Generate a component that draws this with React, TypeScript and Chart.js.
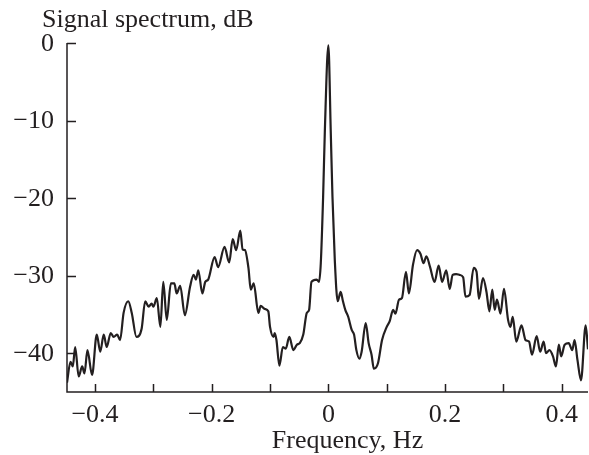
import React, { useEffect, useRef } from 'react';
import { Chart, registerables } from 'chart.js';

Chart.register(...registerables);

const freqHz = [
  -0.448, -0.442, -0.438, -0.434, -0.428, -0.422, -0.418, -0.413, -0.405, -0.397,
  -0.391, -0.385, -0.380, -0.373, -0.368, -0.362, -0.357, -0.351, -0.343, -0.337,
  -0.329, -0.320, -0.314, -0.308, -0.303, -0.300, -0.294, -0.288, -0.283, -0.277,
  -0.270, -0.264, -0.260, -0.254, -0.246, -0.237, -0.231, -0.227, -0.223, -0.216,
  -0.211, -0.206, -0.195, -0.189, -0.178, -0.170, -0.164, -0.158, -0.151, -0.147,
  -0.143, -0.137, -0.133, -0.128, -0.120, -0.116, -0.109, -0.103, -0.100, -0.094,
  -0.092, -0.089, -0.084, -0.078, -0.073, -0.067, -0.060, -0.054, -0.049, -0.043,
  -0.037, -0.033, -0.029, -0.020, -0.016, -0.013, -0.009, -0.006, 0.000, 0.004,
  0.007, 0.011, 0.016, 0.021, 0.025, 0.029, 0.034, 0.040, 0.044, 0.048,
  0.053, 0.057, 0.064, 0.069, 0.074, 0.078, 0.085, 0.092, 0.100, 0.105,
  0.111, 0.115, 0.121, 0.126, 0.133, 0.138, 0.145, 0.152, 0.158, 0.163,
  0.168, 0.174, 0.182, 0.189, 0.195, 0.202, 0.208, 0.213, 0.219, 0.225,
  0.231, 0.235, 0.242, 0.249, 0.254, 0.258, 0.265, 0.271, 0.276, 0.281,
  0.285, 0.289, 0.295, 0.301, 0.308, 0.312, 0.316, 0.322, 0.331, 0.338,
  0.344, 0.349, 0.357, 0.363, 0.369, 0.373, 0.379, 0.385, 0.390, 0.395,
  0.399, 0.405, 0.412, 0.418, 0.422, 0.427, 0.433, 0.441, 0.445,
];

const levelDb = [
  -43.8, -41.1, -41.7, -39.2, -43.0, -41.7, -42.6, -39.6, -42.8, -37.6,
  -39.8, -37.6, -39.2, -37.4, -37.9, -37.6, -38.3, -34.8, -33.3, -34.8,
  -37.9, -36.8, -33.3, -34.0, -33.6, -34.0, -32.9, -36.6, -30.8, -35.7,
  -31.0, -31.0, -32.3, -31.3, -35.1, -31.4, -29.9, -30.5, -29.3, -32.3,
  -30.8, -30.5, -27.6, -28.9, -26.3, -28.3, -25.3, -26.7, -24.2, -26.6,
  -26.7, -29.0, -31.8, -31.0, -34.8, -33.9, -34.3, -34.6, -36.6, -37.9,
  -37.4, -38.3, -41.6, -39.2, -39.4, -37.9, -39.6, -38.9, -38.7, -37.6,
  -34.8, -34.4, -30.8, -30.5, -30.8, -28.4, -19.8, -11.2, -0.3, -11.2,
  -19.8, -28.0, -33.3, -32.1, -33.3, -34.4, -35.3, -37.0, -37.6, -39.6,
  -40.7, -39.8, -36.1, -38.7, -40.2, -42.0, -41.3, -38.3, -36.6, -35.9,
  -34.4, -34.9, -33.1, -32.9, -29.5, -32.3, -28.6, -26.7, -27.2, -28.4,
  -27.5, -28.8, -30.8, -28.7, -30.8, -29.3, -31.7, -29.9, -29.8, -29.9,
  -30.2, -32.7, -32.5, -29.0, -29.5, -33.0, -30.3, -32.1, -34.6, -31.8,
  -34.4, -33.1, -34.9, -31.7, -35.7, -36.6, -35.3, -38.5, -36.4, -38.3,
  -38.5, -40.2, -37.8, -39.8, -38.5, -40.0, -39.6, -40.4, -41.7, -38.9,
  -40.4, -38.9, -38.7, -39.6, -38.3, -40.9, -43.5, -36.4, -39.5,
];

const yTickValues = [0, -10, -20, -30, -40];
const xTickValues = [-0.4, -0.3, -0.2, -0.1, 0, 0.1, 0.2, 0.3, 0.4];
const xTickLabels = ['\u22120.4', '', '\u22120.2', '', '0', '', '0.2', '', '0.4'];
const yTickLabels = ['0', '\u221210', '\u221220', '\u221230', '\u221240'];
const yAxisTitle = 'Signal spectrum, dB';
const xAxisTitle = 'Frequency, Hz';

const INK = '#231f20';
const FONT = '26px "Liberation Serif", "Times New Roman", serif';

const axisDecor = {
  id: 'axisDecor',
  afterDraw(chart: any) {
    const { ctx, chartArea } = chart;
    const xs = chart.scales.x;
    const ys = chart.scales.y;
    const { left, right, top, bottom } = chartArea;
    ctx.save();
    ctx.strokeStyle = INK;
    ctx.lineWidth = 1.5;
    ctx.beginPath();
    ctx.moveTo(left, top);
    ctx.lineTo(left, bottom);
    ctx.lineTo(right, bottom);
    ctx.stroke();

    ctx.beginPath();
    yTickValues.forEach((v) => {
      const py = Math.round(ys.getPixelForValue(v)) + 0.5;
      ctx.moveTo(left, py);
      ctx.lineTo(left + 9, py);
    });
    xTickValues.forEach((v) => {
      const px = Math.round(xs.getPixelForValue(v)) + 0.5;
      ctx.moveTo(px, bottom);
      ctx.lineTo(px, bottom - 8);
    });
    ctx.stroke();

    ctx.fillStyle = INK;
    ctx.font = FONT;
    ctx.textAlign = 'right';
    ctx.textBaseline = 'middle';
    yTickValues.forEach((v, i) => {
      ctx.fillText(yTickLabels[i], left - 13, ys.getPixelForValue(v) + 1);
    });

    ctx.textAlign = 'center';
    ctx.textBaseline = 'alphabetic';
    xTickValues.forEach((v, i) => {
      if (xTickLabels[i]) ctx.fillText(xTickLabels[i], xs.getPixelForValue(v), bottom + 30);
    });

    ctx.fillText(xAxisTitle, (left + right) / 2 + 20, bottom + 56);
    ctx.textAlign = 'left';
    ctx.fillText(yAxisTitle, 42, 27);
    ctx.restore();
  },
};

export default function App() {
  const ref = useRef<HTMLCanvasElement | null>(null);

  useEffect(() => {
    document.body.style.margin = '0';
    const canvas = ref.current;
    if (!canvas) return;
    const points = freqHz.map((f, i) => ({ x: f, y: levelDb[i] }));
    const chart = new Chart(canvas, {
      type: 'line',
      data: {
        datasets: [
          {
            data: points,
            borderColor: INK,
            borderWidth: 2.2,
            pointRadius: 0,
            fill: false,
            cubicInterpolationMode: 'monotone',
          },
        ],
      },
      options: {
        responsive: false,
        animation: false,
        devicePixelRatio: 1,
        layout: { padding: { left: 67, top: 43, right: 1, bottom: 63 } },
        plugins: { legend: { display: false }, tooltip: { enabled: false } },
        scales: {
          x: { type: 'linear', min: -0.448, max: 0.445, display: false },
          y: { type: 'linear', min: -45, max: 0, display: false },
        },
      },
      plugins: [axisDecor],
    });
    return () => chart.destroy();
  }, []);

  return (
    <div style={{ position: 'absolute', left: 0, top: 0, width: 589, height: 455, background: '#fff' }}>
      <canvas ref={ref} width={589} height={455} style={{ display: 'block' }} />
    </div>
  );
}
